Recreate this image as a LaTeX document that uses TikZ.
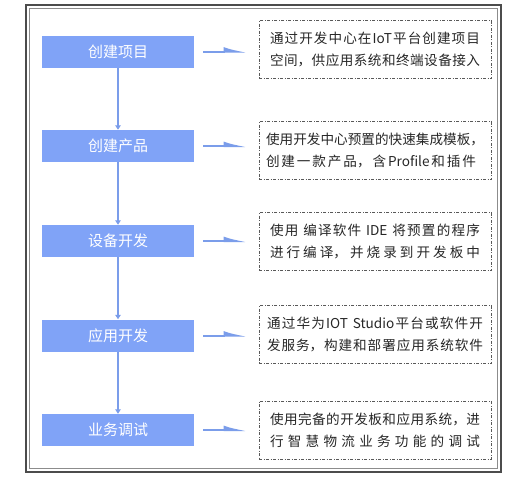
\documentclass[tikz,border=0pt]{standalone}
\usepackage{fontspec}
\setmainfont{Noto Sans CJK SC}
\usepackage{tikz}
\usetikzlibrary{arrows.meta}
\XeTeXlinebreaklocale "zh"
\XeTeXlinebreakskip=0pt plus 1pt
\definecolor{stageblue}{HTML}{80A3F7}
\definecolor{flowblue}{HTML}{7B9DEA}
\newcommand{\spreadline}[2][210pt]{\parbox[t]{#1}{\parfillskip=0pt #2}}
\tikzset{
  stage/.style={fill=stageblue, text=white, minimum width=152pt, minimum height=32pt,
    inner sep=0pt, font=\fontsize{15pt}{18pt}\selectfont},
  note/.style={draw=black!65, line width=0.8pt, dash pattern=on 3pt off 1.5pt on 1pt off 1.5pt,
    minimum width=232pt, minimum height=58pt, inner sep=0pt, align=center, text=black!85,
    font=\fontsize{13.6pt}{22pt}\selectfont},
  flow/.style={draw=flowblue, line width=1.5pt, -{Triangle[length=4.5pt,width=5.5pt]}},
  feed/.style={draw=flowblue, line width=2pt, shorten <=9pt, shorten >=11pt,
    -{Latex[harpoon,length=18pt,width=9pt]}}
}
\begin{document}
\begin{tikzpicture}[x=1pt,y=-1pt]
\useasboundingbox (0,0) rectangle (514,482);
\draw[black!70, line width=1.3pt] (26,5) rectangle (501,472);
\draw[black!45, line width=0.8pt] (29.5,8.5) rectangle (497.5,468.5);
% steps on the left
\node[stage] (b1) at (118,51.5) {创建项目};
\node[stage] (b2) at (118,146) {创建产品};
\node[stage] (b3) at (118,241) {设备开发};
\node[stage] (b4) at (118,335.5) {应用开发};
\node[stage] (b5) at (118,430) {业务调试};
% notes on the right
\node[note] (d1) at (375,49.5) {\spreadline{通过开发中心在IoT平台创建项目}\\\spreadline{空间，供应用系统和终端设备接入}};
\node[note] (d2) at (375,150.5) {\spreadline[218pt]{使用开发中心预置的快速集成模板，}\\\spreadline[218pt]{创建一款产品，含Profile和插件\hspace*{8pt}}};
\node[note] (d3) at (375,241.5) {\spreadline{使用 编译软件 IDE 将预置的程序}\\\spreadline{进行编译，并烧录到开发板中}};
\node[note] (d4) at (375,334.5) {\spreadline[216pt]{通过华为IOT Studio平台或软件开}\\\spreadline[216pt]{发服务，构建和部署应用系统软件}};
\node[note] (d5) at (375,430) {\spreadline{使用完备的开发板和应用系统，进}\\\spreadline{行智慧物流业务功能的调试}};
\draw[flow] (b1) -- (b2);
\draw[flow] (b2) -- (b3);
\draw[flow] (b3) -- (b4);
\draw[flow] (b4) -- (b5);
\draw[feed] (b1.east) -- (b1.east -| d1.west);
\draw[feed] (b2.east) -- (b2.east -| d2.west);
\draw[feed] (b3.east) -- (b3.east -| d3.west);
\draw[feed] (b4.east) -- (b4.east -| d4.west);
\draw[feed] (b5.east) -- (b5.east -| d5.west);
\end{tikzpicture}
\end{document}
